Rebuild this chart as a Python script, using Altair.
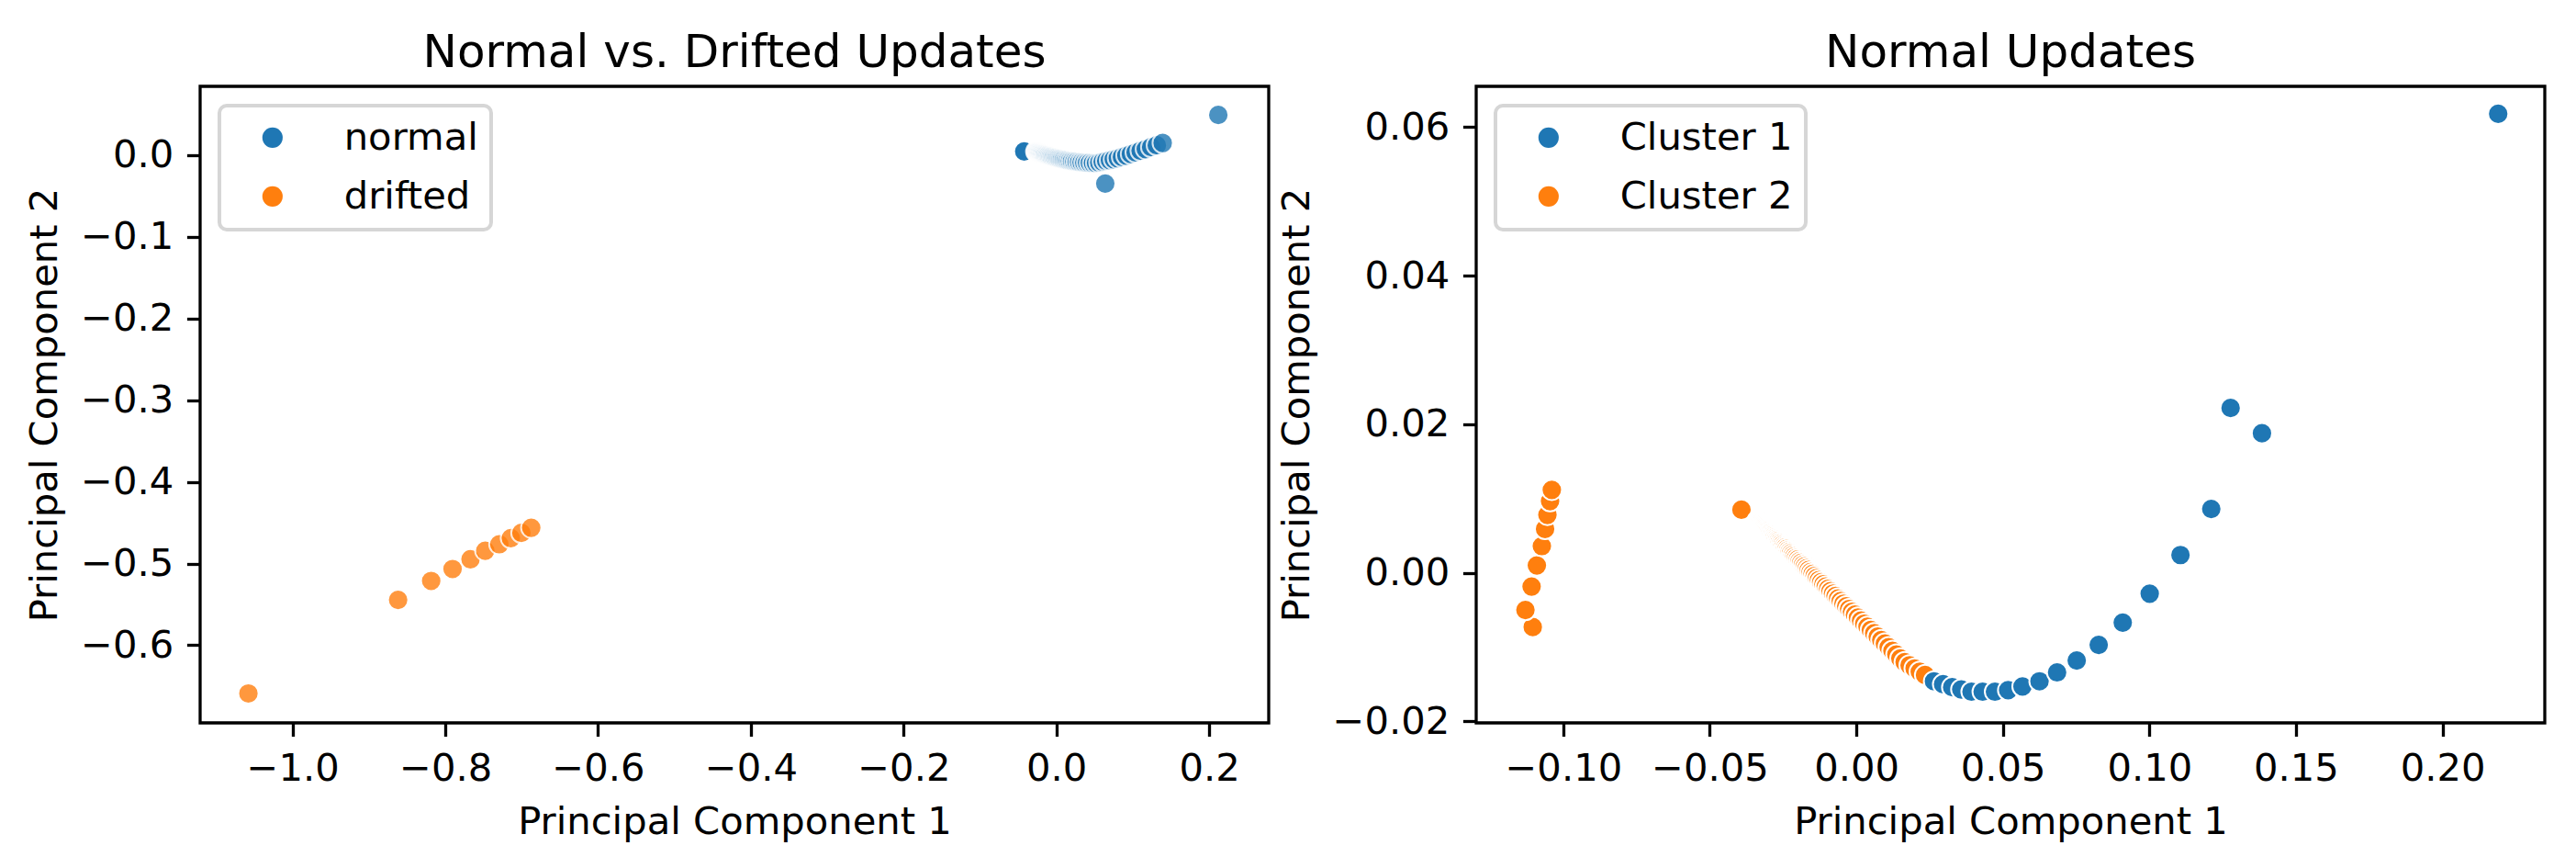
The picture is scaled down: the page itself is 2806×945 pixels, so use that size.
import altair as alt
import pandas as pd

FONT = "DejaVu Sans"

# ---------------- Left panel: Normal vs. Drifted Updates ----------------
normal_x = [-0.0420, -0.0421, -0.0419, -0.0420, -0.0421,
            -0.0264, -0.0255, -0.0246, -0.0236, -0.0226, -0.0215, -0.0204, -0.0192, -0.0180, -0.0168,
            -0.0154, -0.0141, -0.0126, -0.0111, -0.0096, -0.0079, -0.0063, -0.0045, -0.0026, -0.0007,
            0.0013, 0.0034, 0.0055, 0.0078, 0.0102, 0.0127, 0.0152, 0.0179, 0.0207, 0.0237,
            0.0267, 0.0299, 0.0332, 0.0367, 0.0403, 0.0440, 0.0480, 0.0520, 0.0563, 0.0607,
            0.0653, 0.0702, 0.0752, 0.0805, 0.0859, 0.0917, 0.0976, 0.1038, 0.1103, 0.1171,
            0.1241, 0.1315, 0.1392,
            0.0640, 0.2120]
normal_y = [0.0044, 0.0046, 0.0043, 0.0045, 0.0044,
            0.0042, 0.0038, 0.0035, 0.0032, 0.0028, 0.0024, 0.0021, 0.0017, 0.0013, 0.0009,
            0.0005, 0.0001, -0.0004, -0.0008, -0.0012, -0.0017, -0.0022, -0.0026, -0.0031, -0.0036,
            -0.0040, -0.0045, -0.0050, -0.0055, -0.0059, -0.0064, -0.0068, -0.0073, -0.0077, -0.0081,
            -0.0084, -0.0088, -0.0091, -0.0094, -0.0096, -0.0098, -0.0099, -0.0099, -0.0093, -0.0083,
            -0.0073, -0.0064, -0.0053, -0.0040, -0.0025, -0.0007, 0.0011, 0.0031, 0.0052, 0.0072,
            0.0096, 0.0119, 0.0147,
            -0.0350, 0.0490]
drift_x = [-1.0578, -0.8618, -0.8185, -0.7905, -0.7670, -0.7477, -0.7293, -0.7142, -0.7004, -0.6875]
drift_y = [-0.6590, -0.5445, -0.5213, -0.5067, -0.4947, -0.4843, -0.4764, -0.4689, -0.4625, -0.4562]

left_groups = ["normal", "drifted"]
left_xticks = [-1.0, -0.8, -0.6, -0.4, -0.2, 0.0, 0.2]
left_yticks = [-0.6, -0.5, -0.4, -0.3, -0.2, -0.1, 0.0]
left_xdomain = [-1.121, 0.278]
left_ydomain = [-0.695, 0.084]

# ---------------- Right panel: Normal Updates (clusters) ----------------
c2_x = [-0.1104, -0.1129, -0.1108, -0.1090, -0.1073, -0.1062, -0.1054, -0.1045, -0.1039,
        -0.0392,
        -0.03370, -0.03343, -0.03315, -0.03287, -0.03258, -0.03228, -0.03198, -0.03167, -0.03136, -0.03103,
        -0.03070, -0.03036, -0.03001, -0.02966, -0.02930, -0.02892, -0.02854, -0.02815, -0.02776, -0.02735,
        -0.02693, -0.02650, -0.02607, -0.02562, -0.02517, -0.02470, -0.02422, -0.02373, -0.02323, -0.02272,
        -0.02220, -0.02167, -0.02112, -0.02056, -0.01999, -0.01940, -0.01880, -0.01818, -0.01756, -0.01691,
        -0.01626, -0.01559, -0.01490, -0.01420, -0.01348, -0.01274, -0.01199, -0.01122, -0.01043, -0.00962,
        -0.00880, -0.00795, -0.00709, -0.00621, -0.00531, -0.00438, -0.00344, -0.00247, -0.00148, -0.00046,
        0.00057, 0.00163, 0.00271, 0.00382, 0.00495, 0.00612, 0.00730, 0.00852, 0.00976, 0.01103,
        0.01233, 0.01366, 0.01502, 0.01649, 0.01817, 0.01989, 0.02165, 0.02345]
c2_y = [-0.0073, -0.0050, -0.00185, 0.0010, 0.0036, 0.0059, 0.0078, 0.00965, 0.01117,
        0.0085,
        0.00700, 0.00690, 0.00679, 0.00668, 0.00657, 0.00646, 0.00635, 0.00623, 0.00611, 0.00599,
        0.00586, 0.00573, 0.00560, 0.00546, 0.00533, 0.00518, 0.00504, 0.00489, 0.00474, 0.00459,
        0.00443, 0.00427, 0.00410, 0.00393, 0.00376, 0.00358, 0.00340, 0.00321, 0.00302, 0.00283,
        0.00263, 0.00243, 0.00222, 0.00200, 0.00179, 0.00156, 0.00134, 0.00110, 0.00086, 0.00062,
        0.00037, 0.00011, -0.00015, -0.00041, -0.00069, -0.00097, -0.00125, -0.00155, -0.00185, -0.00215,
        -0.00246, -0.00279, -0.00311, -0.00345, -0.00379, -0.00415, -0.00450, -0.00487, -0.00525, -0.00563,
        -0.00603, -0.00643, -0.00684, -0.00726, -0.00769, -0.00813, -0.00859, -0.00905, -0.00952, -0.01000,
        -0.01050, -0.01100, -0.01152, -0.01202, -0.01244, -0.01287, -0.01331, -0.01376]
c1_x = [0.0265, 0.0296, 0.0327, 0.0358, 0.0393, 0.0431, 0.0473, 0.0518, 0.0567, 0.0625,
        0.0685, 0.0752, 0.0827, 0.0909, 0.1001, 0.1106, 0.1211, 0.1277, 0.1384, 0.2190]
c1_y = [-0.0146, -0.0150, -0.0154, -0.0157, -0.0160, -0.0160, -0.0160, -0.0158, -0.0153, -0.0146,
        -0.0134, -0.0118, -0.0097, -0.0067, -0.0028, 0.0024, 0.0086, 0.0222, 0.0188, 0.0618]

right_groups = ["Cluster 1", "Cluster 2"]
right_xticks = [-0.10, -0.05, 0.00, 0.05, 0.10, 0.15, 0.20]
right_yticks = [-0.02, 0.00, 0.02, 0.04, 0.06]
right_xdomain = [-0.1297, 0.2349]
right_ydomain = [-0.0202, 0.0655]

colors = ["#1f77b4", "#ff7f0e"]

left_df = pd.DataFrame({
    "pc1": normal_x + drift_x,
    "pc2": normal_y + drift_y,
    "label": ["normal"] * len(normal_x) + ["drifted"] * len(drift_x),
})
right_df = pd.DataFrame({
    "pc1": c2_x + c1_x,
    "pc2": c2_y + c1_y,
    "label": ["Cluster 2"] * len(c2_x) + ["Cluster 1"] * len(c1_x),
})

W, H = 1164, 693
FS = 41.7


def axis(values, fmt):
    return alt.Axis(values=values, format=fmt, grid=False, domain=False,
                    tickSize=14.6, tickWidth=3.3, tickColor="black",
                    labelFont=FONT, labelFontSize=FS, labelColor="black", labelPadding=14.6,
                    titleFont=FONT, titleFontSize=FS, titleFontWeight="normal", titleColor="black",
                    titlePadding=16.7, labelFlush=False, labelOverlap=False)


def panel(df, groups, xticks, yticks, xdom, ydom, fmt, title, opacity):
    return alt.Chart(df, title=alt.Title(title, font=FONT, fontSize=50, fontWeight="normal",
                                         color="black", offset=11)).mark_circle(
        size=491, opacity=opacity, stroke="white", strokeWidth=2
    ).encode(
        x=alt.X("pc1:Q", title="Principal Component 1",
                scale=alt.Scale(domain=xdom, nice=False, zero=False), axis=axis(xticks, fmt)),
        y=alt.Y("pc2:Q", title="Principal Component 2",
                scale=alt.Scale(domain=ydom, nice=False, zero=False), axis=axis(yticks, fmt)),
        color=alt.Color("label:N", scale=alt.Scale(domain=groups, range=colors),
                        sort=groups, legend=alt.Legend(title=None, orient="top-left")),
    ).properties(width=W, height=H)


left = panel(left_df, left_groups, left_xticks, left_yticks, left_xdomain, left_ydomain,
             ".1f", "Normal vs. Drifted Updates", 0.8)
right = panel(right_df, right_groups, right_xticks, right_yticks, right_xdomain, right_ydomain,
              ".2f", "Normal Updates", 1.0)

chart = alt.hconcat(
    left, right, spacing=6, background="white",
    padding={"left": 19, "top": 23, "right": 5, "bottom": 5},
).resolve_scale(color="independent").resolve_legend(
    color="independent"
).configure_view(stroke="black", strokeWidth=3.3).configure_legend(
    offset=21, padding=14, fillColor="white", strokeColor="#d6d6d6", strokeWidth=4, cornerRadius=8,
    labelFont=FONT, labelFontSize=FS, labelColor="black", labelOffset=57, labelLimit=600,
    symbolType="circle", symbolSize=491, symbolStrokeWidth=0, symbolOpacity=1,
    symbolOffset=23, rowPadding=21
)

chart.save("out.html", embed_options={"renderer": "svg", "actions": False})
